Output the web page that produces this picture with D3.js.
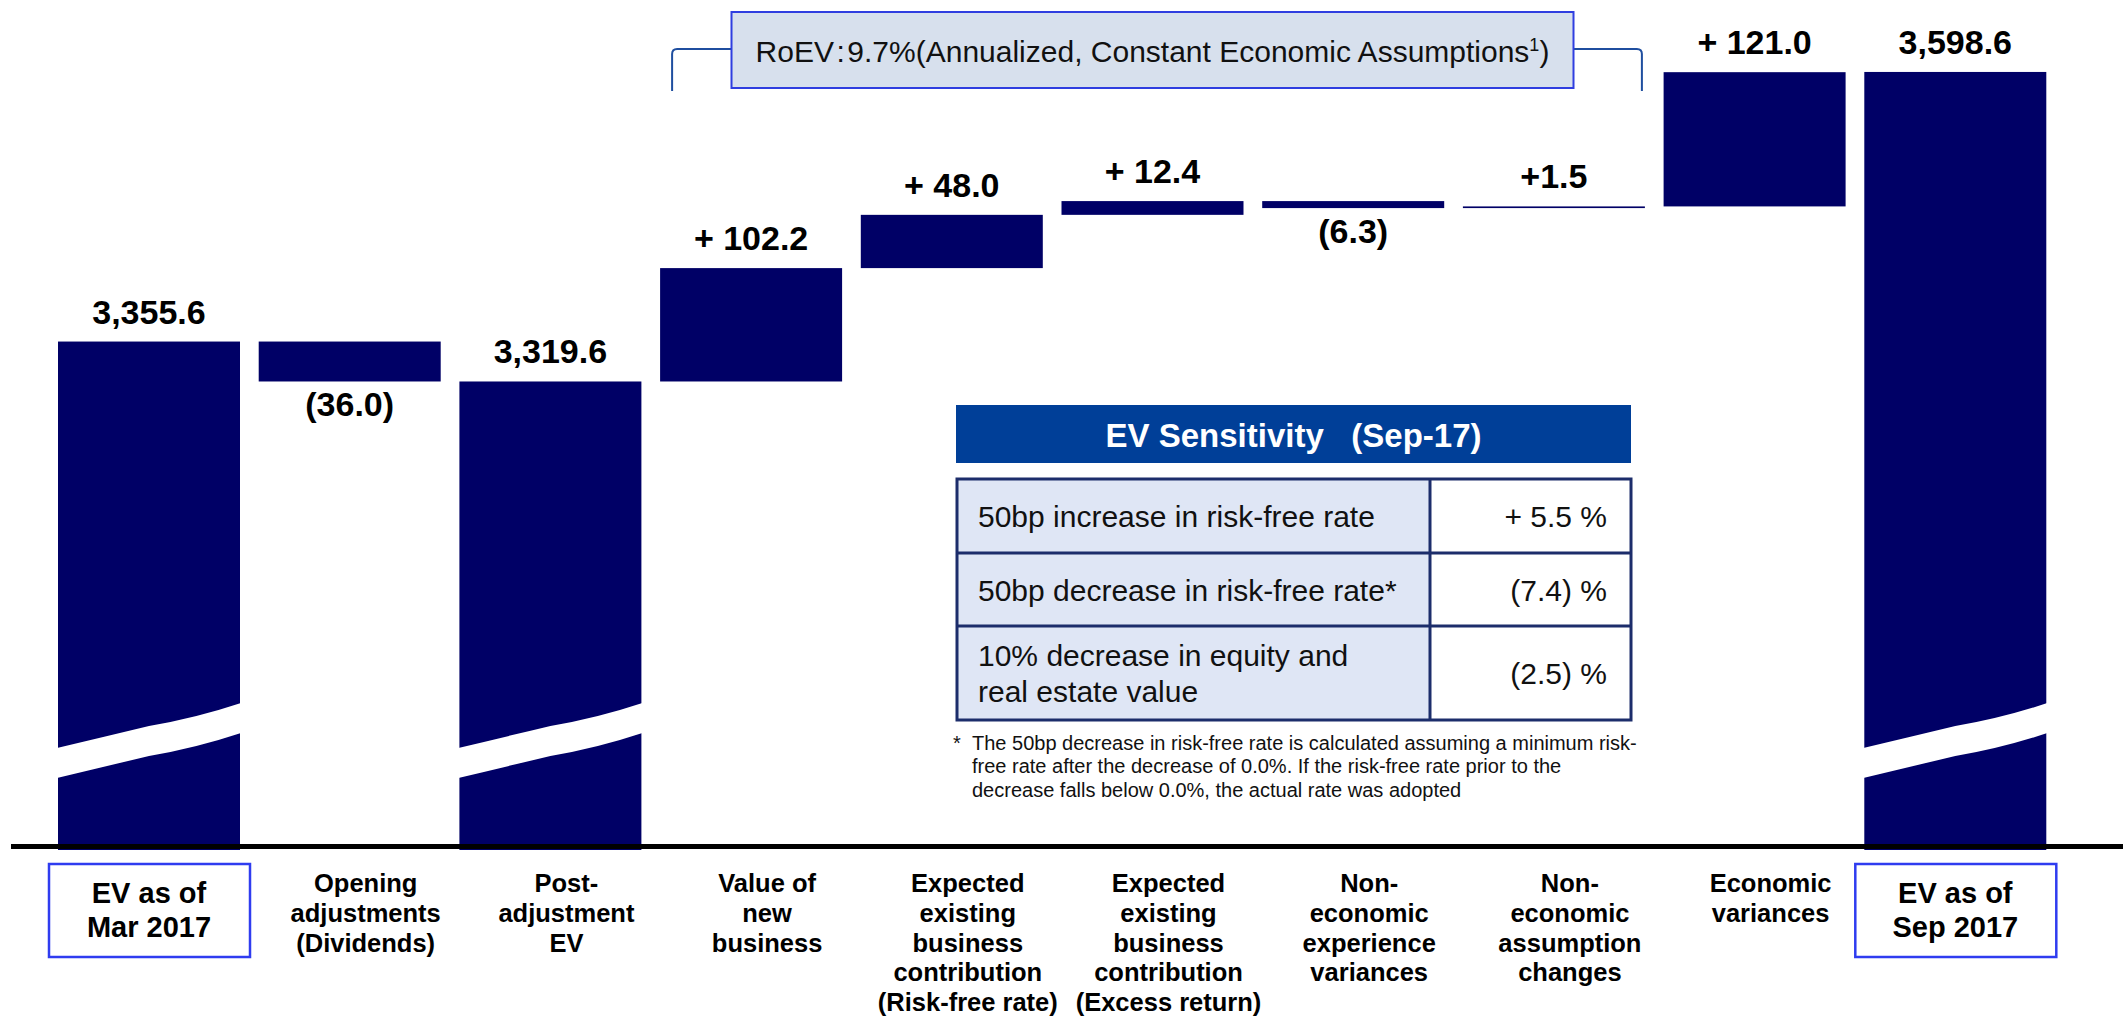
<!DOCTYPE html>
<html><head><meta charset="utf-8">
<script src="https://cdn.jsdelivr.net/npm/d3@7"></script>
<style>
html,body{margin:0;padding:0;background:#fff;}
text{font-family:"Liberation Sans",Arial,sans-serif;}
</style></head>
<body>
<svg id="chart" width="2123" height="1018"></svg>
<script>
// ---------- data ----------
const categories = ["EV as of Mar 2017","Opening adjustments (Dividends)","Post-adjustment EV","Value of new business","Expected existing business contribution (Risk-free rate)","Expected existing business contribution (Excess return)","Non-economic experience variances","Non-economic assumption changes","Economic variances","EV as of Sep 2017"];
const categoryLines = [["EV as of","Mar 2017"],["Opening","adjustments","(Dividends)"],["Post-","adjustment","EV"],["Value of","new","business"],["Expected","existing","business","contribution","(Risk-free rate)"],["Expected","existing","business","contribution","(Excess return)"],["Non-","economic","experience","variances"],["Non-","economic","assumption","changes"],["Economic","variances"],["EV as of","Sep 2017"]];
const values = [3355.6, -36.0, 3319.6, 102.2, 48.0, 12.4, -6.3, 1.5, 121.0, 3598.6];
const kinds = ["total","delta","total","delta","delta","delta","delta","delta","delta","total"];
const boxed = [true,false,false,false,false,false,false,false,false,true];
const valueLabels = ["3,355.6","(36.0)","3,319.6","+ 102.2","+ 48.0","+ 12.4","(6.3)","+1.5","+ 121.0","3,598.6"];
const yDomain = [2900, 3600];
const roevText = "RoEV\u200A:\u200A9.7%(Annualized, Constant Economic Assumptions";
const sensTitle = "EV Sensitivity\u00A0\u00A0\u00A0(Sep-17)";
const sensRows = [["50bp increase in risk-free rate"],["50bp decrease in risk-free rate*"],["10% decrease in equity and","real estate value"]];
const sensValues = ["+ 5.5 %","(7.4) %","(2.5) %"];
const footnote = ["The 50bp decrease in risk-free rate is calculated assuming a minimum risk-","free rate after the decrease of 0.0%. If the risk-free rate prior to the","decrease falls below 0.0%, the actual rate was adopted"];

// ---------- layout ----------
const svg = d3.select("#chart");
const BAR = "#000066";
const x = d3.scaleBand().domain(categories).range([48.65, 2055.65]).paddingInner(0.0932).paddingOuter(0.0466);
const y = d3.scaleLinear().domain(yDomain).range([847, 70.4]);
const bw = x.bandwidth();
const yBase = y(yDomain[0]) + 3;

// compute waterfall segments
let run = 0;
const segs = categories.map((c,i)=>{
  let lo, hi;
  if (kinds[i]==="total"){ run = values[i]; lo = yDomain[0]; hi = values[i]; }
  else { const a = run, b = run + values[i]; lo = Math.min(a,b); hi = Math.max(a,b); run = b; }
  return {c, i, lo, hi, v: values[i], kind: kinds[i]};
});

// bars
svg.append("g").selectAll("rect").data(segs).join("rect")
  .attr("x", d=>x(d.c)).attr("width", bw)
  .attr("y", d=>y(d.hi))
  .attr("height", d=> d.kind==="total" ? yBase - y(d.hi) : Math.max(1.6, y(d.lo)-y(d.hi)))
  .attr("fill", BAR);

// break marks on total bars
const bt = 748, bRise = 45, bGap = 30;
svg.append("g").selectAll("path").data(segs.filter(d=>d.kind==="total")).join("path")
  .attr("d", d=>{
    const x0 = x(d.c)-1, w = bw+2;
    const top = `M${x0},${bt} Q${x0+w*0.25},${bt-11} ${x0+w*0.5},${bt-bRise*0.49} Q${x0+w*0.75},${bt-bRise*0.66} ${x0+w},${bt-bRise}`;
    const bot = `L${x0+w},${bt-bRise+bGap} Q${x0+w*0.75},${bt-bRise*0.66+bGap} ${x0+w*0.5},${bt-bRise*0.49+bGap} Q${x0+w*0.25},${bt-11+bGap} ${x0},${bt+bGap} Z`;
    return top + bot;
  })
  .attr("fill","#fff");

// axis line
svg.append("line").attr("x1",11).attr("x2",2123).attr("y1",846.5).attr("y2",846.5)
  .attr("stroke","#000").attr("stroke-width",5);

// value labels
svg.append("g").selectAll("text").data(segs).join("text")
  .attr("x", d=>x(d.c)+bw/2)
  .attr("y", d=> d.v<0 ? y(d.lo)+35 : y(d.hi)-18)
  .attr("text-anchor","middle").attr("font-size",34).attr("font-weight","bold").attr("fill","#000")
  .text((d,i)=>valueLabels[i]);

// category labels
const catG = svg.append("g");
categories.forEach((c,i)=>{
  const cx = x(c)+bw/2;
  if (boxed[i]){
    catG.append("rect").attr("x",cx-100).attr("y",864).attr("width",201).attr("height",93)
      .attr("fill","#fff").attr("stroke","#2f3cf0").attr("stroke-width",2.5);
    categoryLines[i].forEach((ln,j)=>{
      catG.append("text").attr("x",cx).attr("y",903+j*33.5).attr("text-anchor","middle")
        .attr("font-size",29).attr("font-weight","bold").text(ln);
    });
  } else {
    categoryLines[i].forEach((ln,j)=>{
      catG.append("text").attr("x",cx+16).attr("y",892+j*29.8).attr("text-anchor","middle")
        .attr("font-size",25.5).attr("font-weight","bold").text(ln);
    });
  }
});

// RoEV box + bracket
const bxL = x(categories[3])+12, bxR = x(categories[7])+bw-3;
const boxCx = x(categories[5])+bw/2;
const brY = 49, brBot = 91;
svg.append("path")
  .attr("d",`M${bxL},${brBot} L${bxL},${brY+5} Q${bxL},${brY} ${bxL+5},${brY} L${boxCx-421},${brY} M${boxCx+421},${brY} L${bxR-5},${brY} Q${bxR},${brY} ${bxR},${brY+5} L${bxR},${brBot}`)
  .attr("fill","none").attr("stroke","#1f4e9f").attr("stroke-width",2);
svg.append("rect").attr("x",boxCx-421).attr("y",12).attr("width",842).attr("height",76)
  .attr("fill","#d7e0ed").attr("stroke","#2f3ee0").attr("stroke-width",2);
const rt = svg.append("text").attr("x",boxCx).attr("y",62).attr("text-anchor","middle")
  .attr("font-size",30).attr("fill","#111");
rt.append("tspan").text(roevText);
rt.append("tspan").attr("font-size",18).attr("dy",-11).text("1");
rt.append("tspan").attr("dy",11).text(")");

// sensitivity table
const tL = 957, tR = 1631, tDiv = 1430;
svg.append("rect").attr("x",956).attr("y",405).attr("width",tR-956).attr("height",58).attr("fill","#003f98");
svg.append("text").attr("x",(956+tR)/2).attr("y",447).attr("text-anchor","middle")
  .attr("font-size",33).attr("font-weight","bold").attr("fill","#fff").text(sensTitle);
const rowY = [479, 553, 626, 720];
svg.append("rect").attr("x",tL).attr("y",rowY[0]).attr("width",tDiv-tL).attr("height",rowY[3]-rowY[0]).attr("fill","#dfe6f5");
svg.append("rect").attr("x",tDiv).attr("y",rowY[0]).attr("width",tR-tDiv).attr("height",rowY[3]-rowY[0]).attr("fill","#fff");
const tg = svg.append("g").attr("stroke","#1c2d6b").attr("stroke-width",3);
tg.append("rect").attr("x",tL).attr("y",rowY[0]).attr("width",tR-tL).attr("height",rowY[3]-rowY[0]).attr("fill","none");
tg.append("line").attr("x1",tDiv).attr("x2",tDiv).attr("y1",rowY[0]).attr("y2",rowY[3]);
[rowY[1],rowY[2]].forEach(yy=>tg.append("line").attr("x1",tL).attr("x2",tR).attr("y1",yy).attr("y2",yy));
sensRows.forEach((lines,i)=>{
  const top = rowY[i], bot = rowY[i+1], mid = (top+bot)/2;
  lines.forEach((ln,j)=>{
    const by = lines.length===1 ? mid+11 : mid - 7 + j*36;
    svg.append("text").attr("x",978).attr("y",by).attr("font-size",30).attr("fill","#111").text(ln);
  });
  svg.append("text").attr("x",1607).attr("y",mid+11).attr("text-anchor","end").attr("font-size",30).attr("fill","#111").text(sensValues[i]);
});
svg.append("text").attr("x",953).attr("y",750).attr("font-size",20).attr("fill","#111").text("*");
footnote.forEach((ln,i)=>{
  svg.append("text").attr("x",972).attr("y",750+i*23.3).attr("font-size",20).attr("fill","#111").text(ln);
});
</script>
</body></html>
